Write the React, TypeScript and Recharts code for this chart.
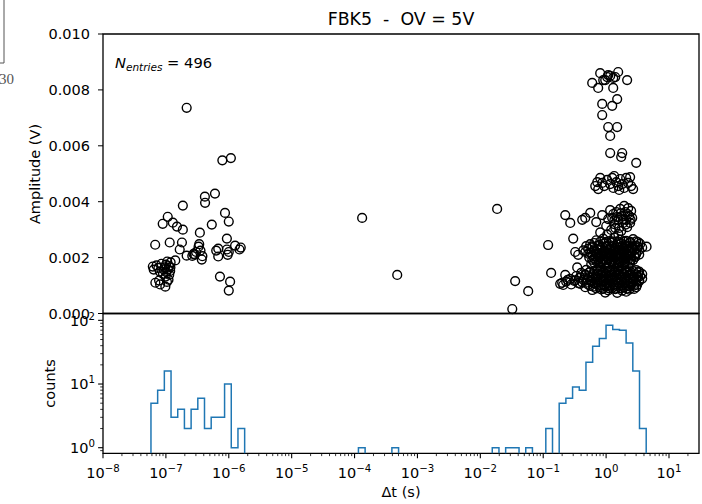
import { ScatterChart, Scatter, LineChart, Line, XAxis, YAxis, ReferenceArea } from 'recharts'

const FONT = '"DejaVu Sans", sans-serif'
const HIST_BLUE = '#1f77b4'

// scatter points: [Δt (s), amplitude (V)]
const LEFT_CLUSTER: [number, number][] = [
  [6.76e-8, 0.00246], [6.2e-8, 0.00168], [6.4e-8, 0.00157], [6.8e-8, 0.0011], [7.1e-8, 0.00172],
  [8.9e-8, 0.00321], [8.1e-8, 0.00104], [7.6e-8, 0.00163], [8.0e-8, 0.0015], [8.5e-8, 0.00178],
  [9.0e-8, 0.00142], [7.8e-8, 0.00118], [9.2e-8, 0.00158],
  [1.07e-7, 0.00346], [1.15e-7, 0.00254], [9.8e-8, 0.00096], [1.1e-7, 0.00121], [1.05e-7, 0.00186],
  [9.6e-8, 0.00165], [1.0e-7, 0.00175], [1.02e-7, 0.00148], [1.08e-7, 0.00158], [1.12e-7, 0.0017],
  [1.17e-7, 0.00152], [1.19e-7, 0.00183], [9.9e-8, 0.00132], [1.04e-7, 0.00113], [1.13e-7, 0.00139],
  [1.18e-7, 0.00165],
  [1.29e-7, 0.00325], [1.41e-7, 0.0019], [1.5e-7, 0.00311],
  [1.86e-7, 0.00386], [1.86e-7, 0.003], [1.8e-7, 0.00254], [1.66e-7, 0.00229],
  [2.14e-7, 0.00736], [2.14e-7, 0.00207],
  [2.88e-7, 0.00211], [2.75e-7, 0.00213], [2.63e-7, 0.00206], [3.02e-7, 0.0022],
  [3.47e-7, 0.00289], [3.72e-7, 0.00193], [3.31e-7, 0.00239], [3.39e-7, 0.00248], [3.55e-7, 0.00225], [3.8e-7, 0.00205],
  [4.17e-7, 0.00418], [4.2e-7, 0.00396],
  [6.03e-7, 0.00429], [5.37e-7, 0.00318], [6.31e-7, 0.00225],
  [6.8e-7, 0.00232], [6.8e-7, 0.00204], [7.24e-7, 0.00132],
  [8.71e-7, 0.0036], [1.0e-6, 0.00329], [9.33e-7, 0.00268], [9.33e-7, 0.00229], [1.05e-6, 0.00114],
  [1.0e-6, 0.00082], [7.9e-7, 0.00548], [1.08e-6, 0.00556], [1.0e-6, 0.0022], [9.6e-7, 0.0021],
  [1.26e-6, 0.00243], [1.48e-6, 0.00229], [1.55e-6, 0.00236],
]

const MIDDLE_POINTS: [number, number][] = [
  [1.32e-4, 0.00342], [4.77e-4, 0.00138], [0.0185, 0.00374], [0.1197, 0.00245], [0.1336, 0.00145],
  [0.0358, 0.00116], [0.0577, 0.0008], [0.0322, 0.00016], [0.186, 0.00106], [4.4, 0.00239],
]

const RIGHT_HIGH: [number, number][] = [
  [0.601, 0.00825], [0.805, 0.0086], [1.08, 0.00853], [1.556, 0.00864], [2.16, 0.00835], [0.748, 0.00807],
  [1.297, 0.00807], [0.968, 0.00835], [1.297, 0.00843], [0.9, 0.00835], [1.396, 0.00846], [1.161, 0.0085],
  [1.04, 0.00846], [1.5, 0.00767], [0.867, 0.0075], [1.25, 0.00743], [0.867, 0.0071], [1.08, 0.00667],
  [1.5, 0.00667], [1.161, 0.00635], [1.161, 0.00574], [1.803, 0.00574], [1.738, 0.0056], [3.01, 0.00539],
]

const RIGHT_4PE: [number, number][] = [
  [0.672, 0.00456], [0.723, 0.0047], [0.806, 0.00485], [0.867, 0.00467], [0.933, 0.00456], [1.04, 0.00478],
  [1.16, 0.00463], [1.25, 0.00485], [1.3, 0.00449], [1.45, 0.0047], [1.56, 0.00456], [1.675, 0.00481],
  [1.8, 0.00463], [1.94, 0.00449], [2.085, 0.00485], [2.24, 0.00467], [2.41, 0.00488], [2.5, 0.00456],
  [2.69, 0.00445], [0.749, 0.00445], [1.345, 0.00492], [1.615, 0.00442],
]

const RIGHT_3PE: [number, number][] = [
  [0.224, 0.00352], [0.269, 0.00324], [0.417, 0.00335], [0.466, 0.00342], [0.559, 0.0036], [0.867, 0.00352],
  [0.697, 0.00327], [1.004, 0.00313], [1.16, 0.0037], [1.25, 0.00342], [1.345, 0.0032], [1.45, 0.00363],
  [1.56, 0.00335], [1.615, 0.00306], [1.675, 0.00374], [1.8, 0.00349], [1.87, 0.00324], [2.01, 0.00363],
  [2.085, 0.00335], [2.16, 0.00309], [2.24, 0.00377], [2.33, 0.00349], [2.41, 0.00324], [2.5, 0.00367],
  [2.6, 0.00342], [1.08, 0.00338], [1.4, 0.00306], [1.205, 0.00299], [1.74, 0.00295], [1.94, 0.00385],
  [0.806, 0.0029], [1.04, 0.00282], [1.56, 0.00285],
  [1.3, 0.00356], [1.5, 0.00345], [1.7, 0.00358], [1.9, 0.00338], [2.2, 0.00356], [2.45, 0.00335],
  [1.35, 0.00333], [2.05, 0.00318],
]

const RIGHT_2PE: [number, number][] = [
  [0.697, 0.00262], [0.9, 0.00268], [1.12, 0.00259], [1.345, 0.00272], [1.675, 0.00264], [2.085, 0.0026], [2.69, 0.00266], [3.24, 0.00255],
  [0.806, 0.00257], [1.004, 0.00256], [1.25, 0.00258], [1.56, 0.00256], [1.94, 0.00257], [2.41, 0.00256], [3.01, 0.00258],
  [0.559, 0.00248], [0.647, 0.00252], [0.777, 0.00246], [0.933, 0.00251], [1.08, 0.00244], [1.25, 0.00253],
  [1.5, 0.00247], [1.74, 0.0025], [2.01, 0.00245], [2.41, 0.00252], [2.9, 0.00243], [3.48, 0.00249],
  [0.602, 0.0024], [0.723, 0.00241], [0.867, 0.00239], [1.04, 0.00242], [1.25, 0.0024], [1.5, 0.00238],
  [1.8, 0.00241], [2.16, 0.0024], [2.6, 0.00239], [3.12, 0.00241],
  [0.52, 0.00232], [0.602, 0.00236], [0.723, 0.00229], [0.836, 0.00234], [1.004, 0.00238], [1.16, 0.0023],
  [1.4, 0.00235], [1.615, 0.00228], [1.87, 0.00233], [2.16, 0.00237], [2.6, 0.00231], [3.12, 0.00234], [3.75, 0.00236],
  [0.647, 0.00226], [0.777, 0.00227], [0.933, 0.00225], [1.12, 0.00228], [1.345, 0.00226], [1.615, 0.00227],
  [1.94, 0.00225], [2.33, 0.00227], [2.79, 0.00226], [3.36, 0.00228],
  [0.466, 0.0022], [0.559, 0.00218], [0.672, 0.00223], [0.806, 0.00216], [0.933, 0.00221], [1.12, 0.00219],
  [1.3, 0.00224], [1.56, 0.00217], [1.8, 0.00222], [2.085, 0.00218], [2.5, 0.00225], [3.01, 0.00216],
  [0.52, 0.00214], [0.697, 0.00215], [0.836, 0.00213], [1.004, 0.00215], [1.205, 0.00214], [1.45, 0.00215],
  [1.74, 0.00213], [2.085, 0.00214], [2.5, 0.00215], [3.01, 0.00213],
  [0.602, 0.00209], [0.723, 0.00212], [0.867, 0.00207], [1.04, 0.00211], [1.205, 0.00206], [1.45, 0.0021],
  [1.675, 0.00213], [1.94, 0.00208], [2.33, 0.0021], [2.79, 0.00205], [3.36, 0.00211],
  [0.672, 0.00204], [0.806, 0.00203], [0.968, 0.00204], [1.16, 0.00203], [1.4, 0.00204], [1.675, 0.00203],
  [2.01, 0.00204], [2.41, 0.00203], [2.9, 0.00202],
  [0.539, 0.002], [0.647, 0.00197], [0.777, 0.00201], [0.9, 0.00196], [1.08, 0.00199], [1.25, 0.00202],
  [1.5, 0.00195], [1.74, 0.002], [2.085, 0.00198], [2.5, 0.00194],
  [0.602, 0.00192], [0.749, 0.00193], [0.9, 0.00192], [1.08, 0.00193], [1.3, 0.00192], [1.56, 0.00193],
  [1.87, 0.00192], [2.24, 0.00193], [2.69, 0.00191],
  [0.697, 0.00188], [0.836, 0.00186], [1.004, 0.0019], [1.205, 0.00185], [1.4, 0.00189], [1.675, 0.00187], [2.01, 0.00184], [2.41, 0.00189],
  [0.647, 0.00182], [0.806, 0.00183], [1.004, 0.00182], [1.25, 0.00183], [1.56, 0.00182], [1.94, 0.00183], [2.41, 0.00181],
  [0.58, 0.00177], [0.749, 0.00179], [0.933, 0.00175], [1.12, 0.00178], [1.345, 0.00176], [1.615, 0.0018], [1.94, 0.00174],
  [0.806, 0.00168], [1.04, 0.00166], [1.3, 0.0017], [1.56, 0.00165], [2.24, 0.00167],
  [0.36, 0.0021], [0.433, 0.00226], [0.483, 0.00241], [0.323, 0.0022], [0.3, 0.00268], [0.347, 0.00165],
]

const RIGHT_1PE: [number, number][] = [
  [0.483, 0.00156], [0.647, 0.00153], [0.806, 0.00158], [1.004, 0.00152], [1.25, 0.00157], [1.56, 0.00154], [1.94, 0.00158], [2.41, 0.00151], [3.01, 0.00155],
  [0.559, 0.0015], [0.723, 0.00151], [0.9, 0.0015], [1.12, 0.00151], [1.4, 0.0015], [1.74, 0.00151],
  [2.16, 0.0015], [2.69, 0.00151], [3.36, 0.0015],
  [0.402, 0.00145], [0.539, 0.00147], [0.723, 0.00143], [0.9, 0.00146], [1.12, 0.00144], [1.345, 0.00148],
  [1.675, 0.00142], [2.085, 0.00146], [2.6, 0.00144], [3.24, 0.00147],
  [0.466, 0.0014], [0.624, 0.00141], [0.806, 0.0014], [1.004, 0.00141], [1.25, 0.0014], [1.56, 0.00141],
  [1.94, 0.0014], [2.41, 0.00141], [3.01, 0.0014], [3.75, 0.00141],
  [0.335, 0.00134], [0.466, 0.00137], [0.602, 0.00133], [0.749, 0.00136], [0.933, 0.00132], [1.16, 0.00135],
  [1.45, 0.00138], [1.8, 0.00133], [2.24, 0.00136], [2.79, 0.00131], [3.48, 0.00134],
  [0.388, 0.00129], [0.539, 0.0013], [0.697, 0.00129], [0.867, 0.0013], [1.08, 0.00129], [1.345, 0.0013],
  [1.675, 0.00129], [2.085, 0.0013], [2.6, 0.00129], [3.24, 0.0013],
  [0.269, 0.00124], [0.374, 0.00127], [0.501, 0.00122], [0.647, 0.00126], [0.806, 0.00123], [1.004, 0.00125],
  [1.25, 0.00128], [1.56, 0.00121], [1.94, 0.00124], [2.41, 0.00127], [3.01, 0.00122], [3.75, 0.00125],
  [0.323, 0.00119], [0.433, 0.0012], [0.58, 0.00119], [0.723, 0.0012], [0.9, 0.00119], [1.12, 0.0012],
  [1.4, 0.00119], [1.74, 0.0012], [2.16, 0.00119], [2.69, 0.0012], [3.36, 0.00119],
  [0.232, 0.00114], [0.311, 0.00117], [0.417, 0.00112], [0.559, 0.00116], [0.723, 0.00113], [0.9, 0.00115],
  [1.12, 0.00118], [1.4, 0.00111], [1.74, 0.00114], [2.16, 0.00117], [2.69, 0.00112], [3.36, 0.00116],
  [0.36, 0.00109], [0.483, 0.0011], [0.624, 0.00109], [0.806, 0.0011], [1.004, 0.00109], [1.25, 0.0011],
  [1.56, 0.00109], [1.94, 0.0011], [2.41, 0.00109], [3.01, 0.0011],
  [0.279, 0.00104], [0.388, 0.00106], [0.52, 0.00103], [0.672, 0.00107], [0.836, 0.00102], [1.04, 0.00105],
  [1.3, 0.00103], [1.615, 0.00106], [2.01, 0.00101], [2.5, 0.00105], [3.12, 0.00103],
  [0.559, 0.00099], [0.749, 0.001], [0.933, 0.00099], [1.16, 0.001], [1.45, 0.00099], [1.8, 0.001],
  [2.24, 0.00099], [2.79, 0.001],
  [0.466, 0.00094], [0.624, 0.00096], [0.806, 0.00093], [1.004, 0.00097], [1.25, 0.00092], [1.56, 0.00095],
  [1.94, 0.00093], [2.41, 0.00096], [3.01, 0.00094],
  [0.697, 0.0009], [0.9, 0.00089], [1.12, 0.0009], [1.4, 0.00089], [1.74, 0.0009], [2.16, 0.00089],
  [0.602, 0.00084], [0.836, 0.00086], [1.08, 0.00083], [1.4, 0.00087], [1.8, 0.00082], [2.33, 0.00085], [2.79, 0.00088],
  [0.968, 0.00075], [1.5, 0.00074], [2.085, 0.00078],
  [0.208, 0.00102], [0.245, 0.0012], [0.2, 0.0011], [0.224, 0.00138],
]

// histogram of Δt: counts per log bin between HIST_LO and HIST_HI
const HIST_LO = 5.79e-8
const HIST_HI = 4.34
const HIST_COUNTS = [
  5, 8, 16, 3, 4, 2, 4, 6, 2, 3, 3, 10, 1, 2,
  0, 0, 0, 0, 0, 0, 0, 0, 0, 0, 0, 0, 0, 0, 0, 0, 0,
  1, 0, 0, 0, 0, 1,
  0, 0, 0, 0, 0, 0, 0, 0, 0, 0, 0, 0, 0, 0,
  1, 0, 1, 1, 0, 1, 0, 0, 2, 0,
  5, 6, 9, 8, 22, 39, 52, 84, 72, 70, 44, 16, 2,
]

const X_MAJOR = [1e-8, 1e-7, 1e-6, 1e-5, 1e-4, 1e-3, 1e-2, 1e-1, 1e0, 1e1]
const X_MINOR = X_MAJOR.flatMap((d) => [2, 3, 4, 5, 6, 7, 8, 9].map((m) => m * d)).filter((v) => v < 29)
const Y_TOP_TICKS = [0, 0.002, 0.004, 0.006, 0.008, 0.01]
const Y_BOTTOM_MAJOR = [1, 10, 100]
const Y_BOTTOM_MINOR = [0.9, 2, 3, 4, 5, 6, 7, 8, 9, 20, 30, 40, 50, 60, 70, 80, 90]

const X_DOMAIN: [number, number] = [1e-8, 30]
const Y_COUNT_DOMAIN: [number, number] = [0.817, 128]
const FLOOR = 0.1

const scatterData = [
  ...LEFT_CLUSTER, ...MIDDLE_POINTS, ...RIGHT_HIGH, ...RIGHT_4PE, ...RIGHT_3PE, ...RIGHT_2PE, ...RIGHT_1PE,
].map(([dt, amp]) => ({ dt, amp }))

const nBins = HIST_COUNTS.length
const logLo = Math.log10(HIST_LO)
const logHi = Math.log10(HIST_HI)
const edges = Array.from({ length: nBins + 1 }, (_, i) => 10 ** (logLo + ((logHi - logLo) * i) / nBins))
const histLine = [
  { x: edges[0], y: FLOOR },
  ...HIST_COUNTS.map((c, i) => ({ x: edges[i], y: c > 0 ? c : FLOOR })),
  { x: edges[nBins], y: FLOOR },
]

const isPow10 = (v: number) => Math.abs(Math.log10(v) - Math.round(Math.log10(v))) < 1e-6
const expText = (v: number) => {
  const e = Math.round(Math.log10(v))
  return e < 0 ? `\u2212${-e}` : `${e}`
}

function LogXTick({ x, y, payload }: any) {
  const v = payload.value
  const major = isPow10(v)
  return (
    <g>
      <line x1={x} x2={x} y1={y} y2={y + (major ? 4.9 : 2.8)} stroke="#000" strokeWidth={major ? 1.1 : 0.8} />
      {major && (
        <text x={x} y={y + 24.5} textAnchor="middle" fontSize={14.5} fontFamily={FONT} fill="#000">
          10<tspan dy={-6} fontSize={10.2}>{expText(v)}</tspan>
        </text>
      )}
    </g>
  )
}

function LogYTick({ x, y, payload }: any) {
  const v = payload.value
  const major = isPow10(v)
  return (
    <g>
      <line x1={x - (major ? 4.9 : 2.8)} x2={x} y1={y} y2={y} stroke="#000" strokeWidth={major ? 1.1 : 0.8} />
      {major && (
        <text x={x - 8} y={y + 5.3} textAnchor="end" fontSize={14.5} fontFamily={FONT} fill="#000">
          10<tspan dy={-6} fontSize={10.2}>{expText(v)}</tspan>
        </text>
      )}
    </g>
  )
}

const Ring = (props: any) => (
  <circle cx={props.cx} cy={props.cy} r={4.4} fill="none" stroke="#000" strokeWidth={1.4} />
)

export default function App() {
  return (
    <div style={{ position: 'absolute', left: 0, top: 0, width: 702, height: 504, background: '#fff', fontFamily: FONT }}>
      <div style={{ position: 'absolute', left: 0, top: 0 }}>
        <ScatterChart width={702} height={504} margin={{ top: 34, right: 3, bottom: 190.5, left: 0 }}>
          <XAxis type="number" dataKey="dt" scale="log" domain={X_DOMAIN} allowDataOverflow hide />
          <YAxis
            type="number"
            dataKey="amp"
            domain={[0, 0.01]}
            ticks={Y_TOP_TICKS}
            interval={0}
            width={103}
            stroke="#000"
            axisLine={false}
            tickSize={5}
            tickMargin={8}
            tickFormatter={(v: number) => v.toFixed(3)}
            tick={{ fontSize: 14.5, fill: '#000', fontFamily: FONT }}
          />
          <ReferenceArea x1={1e-8} x2={30} y1={0} y2={0.01} fill="none" stroke="#000" strokeWidth={1.3} />
          <Scatter data={scatterData} shape={Ring} isAnimationActive={false} />
        </ScatterChart>
      </div>
      <div style={{ position: 'absolute', left: 0, top: 0 }}>
        <LineChart width={702} height={504} data={histLine} margin={{ top: 313.5, right: 3, bottom: 0, left: 0 }}>
          <XAxis
            type="number"
            dataKey="x"
            scale="log"
            domain={X_DOMAIN}
            allowDataOverflow
            ticks={[...X_MAJOR, ...X_MINOR]}
            interval={0}
            height={50.7}
            axisLine={false}
            tickLine={false}
            tickSize={0}
            tickMargin={0}
            tick={<LogXTick />}
          />
          <YAxis
            type="number"
            scale="log"
            domain={Y_COUNT_DOMAIN}
            allowDataOverflow
            ticks={[...Y_BOTTOM_MAJOR, ...Y_BOTTOM_MINOR]}
            interval={0}
            width={103}
            axisLine={false}
            tickLine={false}
            tickSize={0}
            tickMargin={0}
            tick={<LogYTick />}
          />
          <ReferenceArea x1={1e-8} x2={30} y1={Y_COUNT_DOMAIN[0]} y2={Y_COUNT_DOMAIN[1]} fill="none" stroke="#000" strokeWidth={1.3} />
          <Line type="stepAfter" dataKey="y" stroke={HIST_BLUE} strokeWidth={1.5} dot={false} isAnimationActive={false} />
        </LineChart>
      </div>
      <svg width={702} height={504} style={{ position: 'absolute', left: 0, top: 0, pointerEvents: 'none' }}>
        <line x1={4} x2={4} y1={0} y2={63} stroke="#555" strokeWidth={1} />
        <line x1={0} x2={4} y1={63} y2={63} stroke="#555" strokeWidth={1} />
        <text x={14} y={84} textAnchor="end" fontSize={15} fontFamily='"Liberation Serif", serif' fill="#555">30</text>
        <text x={401} y={25} textAnchor="middle" fontSize={17.4} fontFamily={FONT} fill="#000" style={{ whiteSpace: 'pre' }}>
          {'FBK5  -  OV = 5V'}
        </text>
        <text x={115} y={68} fontSize={14.7} fontFamily={FONT} fill="#000" style={{ whiteSpace: 'pre' }}>
          <tspan fontStyle="italic">N</tspan>
          <tspan fontStyle="italic" fontSize={10.5} dy={2.5}>entries</tspan>
          <tspan dy={-2.5}>{' = 496'}</tspan>
        </text>
        <text x={35} y={174} transform="rotate(-90 35 174)" textAnchor="middle" dominantBaseline="central" fontSize={14.5} fontFamily={FONT} fill="#000">
          Amplitude (V)
        </text>
        <text x={50} y={383.4} transform="rotate(-90 50 383.4)" textAnchor="middle" dominantBaseline="central" fontSize={14.5} fontFamily={FONT} fill="#000">
          counts
        </text>
        <text x={401} y={497} textAnchor="middle" fontSize={14.5} fontFamily={FONT} fill="#000">
          Δt (s)
        </text>
      </svg>
    </div>
  )
}
